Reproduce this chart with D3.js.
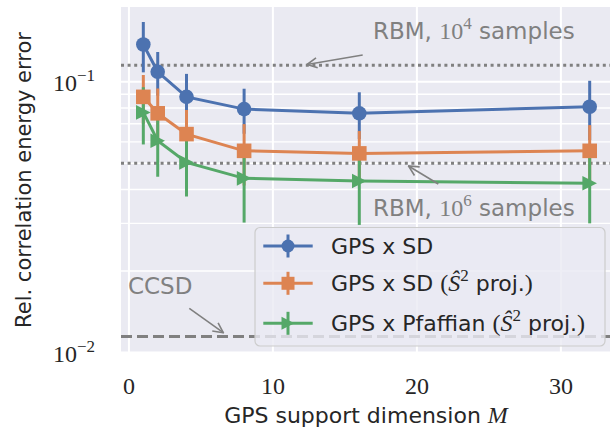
<!DOCTYPE html>
<html>
<head>
<meta charset="utf-8">
<script src="https://cdn.jsdelivr.net/npm/d3@7"></script>
<style>
  body { margin: 0; background: #fff; }
  svg { display: block; }
</style>
</head>
<body>
<svg id="chart"></svg>
<script>
const width = 610;
const height = 431;

// support dimensions M
const dims = [1, 2, 4, 8, 16, 32];

// relative correlation energy error, mean and spread
const gpsSd = [0.1374, 0.1089, 0.0880, 0.0793, 0.0765, 0.0809];
const gpsSdErr = [0.029, 0.020, 0.019, 0.015, 0.015, 0.020];
const gpsSdProj = [0.0880, 0.0765, 0.0641, 0.0556, 0.0544, 0.0556];
const gpsSdProjErr = [0.018, 0.018, 0.0146, 0.0142, 0.0114, 0.0136];
const gpsPfProj = [0.0771, 0.0606, 0.0504, 0.0440, 0.0430, 0.0422];
const gpsPfProjErr = [0.0184, 0.016, 0.0127, 0.0138, 0.0134, 0.0122];

// reference lines
const rbm1e4 = 0.1152;
const rbm1e6 = 0.050;
const ccsd = 0.01146;

const xTicks = [0, 10, 20, 30];
const yTicks = [0.01, 0.1];
const yTickExp = ["\u22122", "\u22121"];
const yMinor = [0.02, 0.03, 0.04, 0.05, 0.06, 0.07, 0.08, 0.09];

const series = [
  { name: "sd", y: gpsSd, err: gpsSdErr, color: "#4c72b0", marker: "circle" },
  { name: "sdproj", y: gpsSdProj, err: gpsSdProjErr, color: "#dd8452", marker: "square" },
  { name: "pf", y: gpsPfProj, err: gpsPfProjErr, color: "#55a868", marker: "tri" }
];

const sans = "'DejaVu Sans', sans-serif";
const serif = "'Liberation Serif', 'DejaVu Serif', serif";
const ink = "#262626";
const grey = "#808080";

const plot = { left: 121, right: 612, top: 7, bottom: 352.5 };

const svg = d3.select("#chart")
  .attr("width", width)
  .attr("height", height)
  .style("font-family", sans);

const x = d3.scaleLinear().domain([-0.55, 33.55]).range([plot.left, plot.right]);
const y = d3.scaleLog().domain([0.01, 0.189]).range([plot.bottom, plot.top]);

// background + grid
svg.append("rect")
  .attr("x", plot.left).attr("y", plot.top)
  .attr("width", plot.right - plot.left).attr("height", plot.bottom - plot.top)
  .attr("fill", "#eaeaf2");

const grid = svg.append("g");
grid.selectAll("line.minor")
  .data(yMinor)
  .enter().append("line")
  .attr("x1", plot.left).attr("x2", plot.right)
  .attr("y1", d => y(d)).attr("y2", d => y(d))
  .attr("stroke", "#fff").attr("stroke-width", 1.4);
grid.selectAll("line.ymaj")
  .data(yTicks)
  .enter().append("line")
  .attr("x1", plot.left).attr("x2", plot.right)
  .attr("y1", d => y(d)).attr("y2", d => y(d))
  .attr("stroke", "#fff").attr("stroke-width", 2);
grid.selectAll("line.xmaj")
  .data(xTicks)
  .enter().append("line")
  .attr("x1", d => x(d)).attr("x2", d => x(d))
  .attr("y1", plot.top).attr("y2", plot.bottom)
  .attr("stroke", "#fff").attr("stroke-width", 2);

// tick labels
svg.selectAll("text.xt")
  .data(xTicks)
  .enter().append("text")
  .attr("x", d => x(d)).attr("y", 393.5)
  .attr("text-anchor", "middle")
  .attr("font-family", serif).attr("font-size", 24)
  .attr("fill", ink)
  .text(d => d);

yTicks.forEach((t, i) => {
  const lab = svg.append("text")
    .attr("x", 95).attr("y", y(t) + 9)
    .attr("text-anchor", "end")
    .attr("font-family", serif).attr("font-size", 24)
    .attr("fill", ink);
  lab.append("tspan").text("10");
  lab.append("tspan").attr("dy", -9.5).attr("font-size", 17).text(yTickExp[i]);
});

// axis labels
svg.append("text")
  .attr("transform", "translate(31,180) rotate(-90)")
  .attr("text-anchor", "middle")
  .attr("font-size", 21).attr("fill", ink)
  .text("Rel. correlation energy error");

const xl = svg.append("text")
  .attr("x", 366).attr("y", 423)
  .attr("text-anchor", "middle")
  .attr("font-size", 22).attr("fill", ink);
xl.append("tspan").text("GPS support dimension ");
xl.append("tspan").attr("font-family", serif).attr("font-style", "italic").attr("font-size", 24).text("M");

// reference lines
const refs = svg.append("g");
refs.append("line")
  .attr("x1", plot.left).attr("x2", plot.right)
  .attr("y1", y(rbm1e4)).attr("y2", y(rbm1e4))
  .attr("stroke", grey).attr("stroke-width", 3)
  .attr("stroke-dasharray", "3,3.6");
refs.append("line")
  .attr("x1", plot.left).attr("x2", plot.right)
  .attr("y1", y(rbm1e6)).attr("y2", y(rbm1e6))
  .attr("stroke", grey).attr("stroke-width", 3)
  .attr("stroke-dasharray", "3,3.6");
refs.append("line")
  .attr("x1", plot.left).attr("x2", plot.right)
  .attr("y1", y(ccsd)).attr("y2", y(ccsd))
  .attr("stroke", grey).attr("stroke-width", 3)
  .attr("stroke-dasharray", "11,5");

// error bars (all under the lines, like matplotlib)
series.forEach(s => {
  svg.append("g").selectAll("line")
    .data(dims)
    .enter().append("line")
    .attr("x1", d => x(d)).attr("x2", d => x(d))
    .attr("y1", (d, i) => y(s.y[i] + s.err[i]))
    .attr("y2", (d, i) => y(Math.max(s.y[i] - s.err[i], 0.0101)))
    .attr("stroke", s.color).attr("stroke-width", 3);
});

function markerPath(kind, r) {
  if (kind === "circle") return d3.symbol(d3.symbolCircle, Math.PI * r * r)();
  if (kind === "square") return `M${-r},${-r}H${r}V${r}H${-r}Z`;
  return `M${r},0L${-r},${-r}L${-r},${r}Z`;
}

const line = d3.line().x(d => x(d[0])).y(d => y(d[1]));

series.forEach(s => {
  const pts = dims.map((d, i) => [d, s.y[i]]);
  svg.append("path")
    .datum(pts)
    .attr("d", line)
    .attr("fill", "none")
    .attr("stroke", s.color).attr("stroke-width", 3);
  svg.append("g").selectAll("path")
    .data(pts)
    .enter().append("path")
    .attr("transform", d => `translate(${x(d[0])},${y(d[1])})`)
    .attr("d", markerPath(s.marker, 7.3))
    .attr("fill", s.color);
});

// annotations
svg.append("defs").append("marker")
  .attr("id", "head")
  .attr("viewBox", "0 0 12 12")
  .attr("refX", 11).attr("refY", 6)
  .attr("markerWidth", 12).attr("markerHeight", 12)
  .attr("markerUnits", "userSpaceOnUse")
  .attr("orient", "auto")
  .append("path")
  .attr("d", "M1,1L11,6L1,11")
  .attr("fill", "none").attr("stroke", grey).attr("stroke-width", 1.6);

function arrow(x1, y1, x2, y2) {
  svg.append("line")
    .attr("x1", x1).attr("y1", y1).attr("x2", x2).attr("y2", y2)
    .attr("stroke", grey).attr("stroke-width", 1.6)
    .attr("marker-end", "url(#head)");
}

function rbmLabel(xp, yp, expo) {
  const t = svg.append("text")
    .attr("x", xp).attr("y", yp)
    .attr("font-size", 23).attr("fill", grey);
  t.append("tspan").text("RBM, ");
  t.append("tspan").attr("font-family", serif).attr("font-size", 24).text("10");
  t.append("tspan").attr("font-family", serif).attr("font-size", 17).attr("dy", -10).text(expo);
  t.append("tspan").attr("dy", 10).text(" samples");
}

rbmLabel(373, 39, "4");
arrow(362.7, 55, 307, 64.5);
rbmLabel(373, 215.5, "6");
arrow(438.3, 184, 408.5, 166);
svg.append("text")
  .attr("x", 128).attr("y", 294)
  .attr("font-size", 23).attr("fill", grey)
  .text("CCSD");
arrow(189.3, 308.3, 223.3, 332.7);

// legend
const legend = svg.append("g");
legend.append("rect")
  .attr("x", 255).attr("y", 227.5)
  .attr("width", 350).attr("height", 118.5)
  .attr("rx", 5)
  .attr("fill", "#eaeaf2").attr("fill-opacity", 0.8)
  .attr("stroke", "#cccccc").attr("stroke-width", 1.2);

const legendRows = [246, 283.3, 323.3];
const legendText = [
  [{ t: "GPS x SD" }],
  [{ t: "GPS x SD " }, { t: "(", f: serif }, { t: "\u015C", f: serif, i: true }, { t: "2", f: serif, sup: true }, { t: " proj.", down: true }, { t: ")", f: serif }],
  [{ t: "GPS x Pfaffian " }, { t: "(", f: serif }, { t: "\u015C", f: serif, i: true }, { t: "2", f: serif, sup: true }, { t: " proj.", down: true }, { t: ")", f: serif }]
];

series.forEach((s, k) => {
  const ly = legendRows[k];
  legend.append("line")
    .attr("x1", 263.3).attr("x2", 312.7).attr("y1", ly).attr("y2", ly)
    .attr("stroke", s.color).attr("stroke-width", 3);
  legend.append("line")
    .attr("x1", 288).attr("x2", 288).attr("y1", ly - 11.5).attr("y2", ly + 11.5)
    .attr("stroke", s.color).attr("stroke-width", 3);
  legend.append("path")
    .attr("transform", `translate(288,${ly})`)
    .attr("d", markerPath(s.marker, 6.5))
    .attr("fill", s.color);
  const t = legend.append("text")
    .attr("x", 331).attr("y", ly + 7.5)
    .attr("font-size", 22).attr("fill", ink);
  legendText[k].forEach(seg => {
    const sp = t.append("tspan").text(seg.t);
    if (seg.f) sp.attr("font-family", seg.f).attr("font-size", 24);
    if (seg.i) sp.attr("font-style", "italic");
    if (seg.sup) sp.attr("font-size", 17).attr("dy", -10);
    if (seg.down) sp.attr("dy", 10);
  });
});
</script>
</body>
</html>
